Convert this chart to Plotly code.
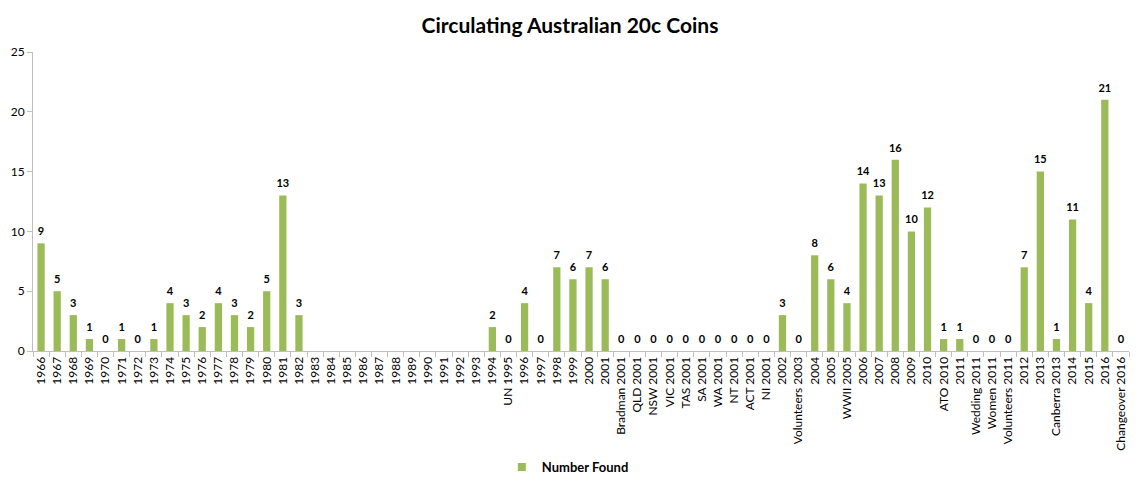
import plotly.graph_objects as go

categories = [str(y) for y in range(1966, 1995)] + [
    "UN 1995", "1996", "1997", "1998", "1999", "2000", "2001",
    "Bradman 2001", "QLD 2001", "NSW 2001", "VIC 2001", "TAS 2001", "SA 2001",
    "WA 2001", "NT 2001", "ACT 2001", "NI 2001", "2002", "Volunteers 2003",
    "2004", "2005", "WWII 2005", "2006", "2007", "2008", "2009", "2010",
    "ATO 2010", "2011", "Wedding 2011", "Women 2011", "Volunteers 2011",
    "2012", "2013", "Canberra 2013", "2014", "2015", "2016", "Changeover 2016",
]

values = [
    9, 5, 3, 1, 0, 1, 0, 1, 4, 3, 2, 4, 3, 2, 5, 13, 3,          # 1966-1982
    None, None, None, None, None, None, None, None, None, None, None,  # 1983-1993
    2,                                                            # 1994
    0, 4, 0, 7, 6, 7, 6,                                          # UN 1995 - 2001
    0, 0, 0, 0, 0, 0, 0, 0, 0, 0,                                 # 2001 set
    3, 0, 8, 6, 4, 14, 13, 16, 10, 12,                            # 2002 - 2010
    1, 1, 0, 0, 0, 7, 15, 1, 11, 4, 21, 0,                        # ATO 2010 - Changeover 2016
]

series_name = "Number Found"
title_text = "Circulating Australian 20c Coins"
y_ticks = [0, 5, 10, 15, 20, 25]

bar_color = "#9BBB59"
font_family = "Lato, 'Open Sans', sans-serif"

label_x = [c for c, v in zip(categories, values) if v is not None]
label_y = [v for v in values if v is not None]

fig = go.Figure()
fig.add_trace(go.Bar(
    x=categories, y=values, name=series_name, showlegend=False,
    marker=dict(color=bar_color, line=dict(width=0)),
))
fig.add_trace(go.Scatter(
    x=label_x, y=label_y, mode="text+markers", text=[str(v) for v in label_y],
    textposition="top center", showlegend=False, hoverinfo="skip",
    marker=dict(size=7, opacity=0),
    textfont=dict(family=font_family, size=11, color="#000000", weight="bold"),
))
# legend entry (square swatch)
fig.add_trace(go.Scatter(
    x=[None], y=[None], mode="markers", name=series_name,
    marker=dict(symbol="square", size=8, color=bar_color),
))

fig.update_layout(
    width=1140, height=488,
    margin=dict(l=33, r=11, t=52, b=137, autoexpand=False),
    paper_bgcolor="white", plot_bgcolor="white",
    bargap=0.55,
    title=dict(text="<b>" + title_text + "</b>", x=0.5, xanchor="center",
               y=0.948, yanchor="middle",
               font=dict(family=font_family, size=21, color="#000000")),
    showlegend=True,
    legend=dict(orientation="h", x=0.488, xanchor="center",
                yref="container", y=0.043, yanchor="middle",
                itemwidth=30,
                font=dict(family=font_family, size=13, color="#000000", weight="bold")),
    xaxis=dict(
        type="category", categoryorder="array", categoryarray=categories,
        tickangle=-90, tickson="boundaries", ticks="outside", ticklen=5,
        tickcolor="#BFBFBF", showline=True, linecolor="#BFBFBF", linewidth=1,
        showgrid=False, tickfont=dict(family=font_family, size=12, color="#000000"),
        range=[-0.5, len(categories) - 0.5],
    ),
    yaxis=dict(
        range=[0, 25], tickvals=y_ticks, ticks="outside", ticklen=5,
        tickcolor="#BFBFBF", showline=True, linecolor="#BFBFBF", linewidth=1,
        showgrid=False, zeroline=False,
        tickfont=dict(family=font_family, size=12, color="#000000"),
    ),
)

fig.write_html("out.html")
